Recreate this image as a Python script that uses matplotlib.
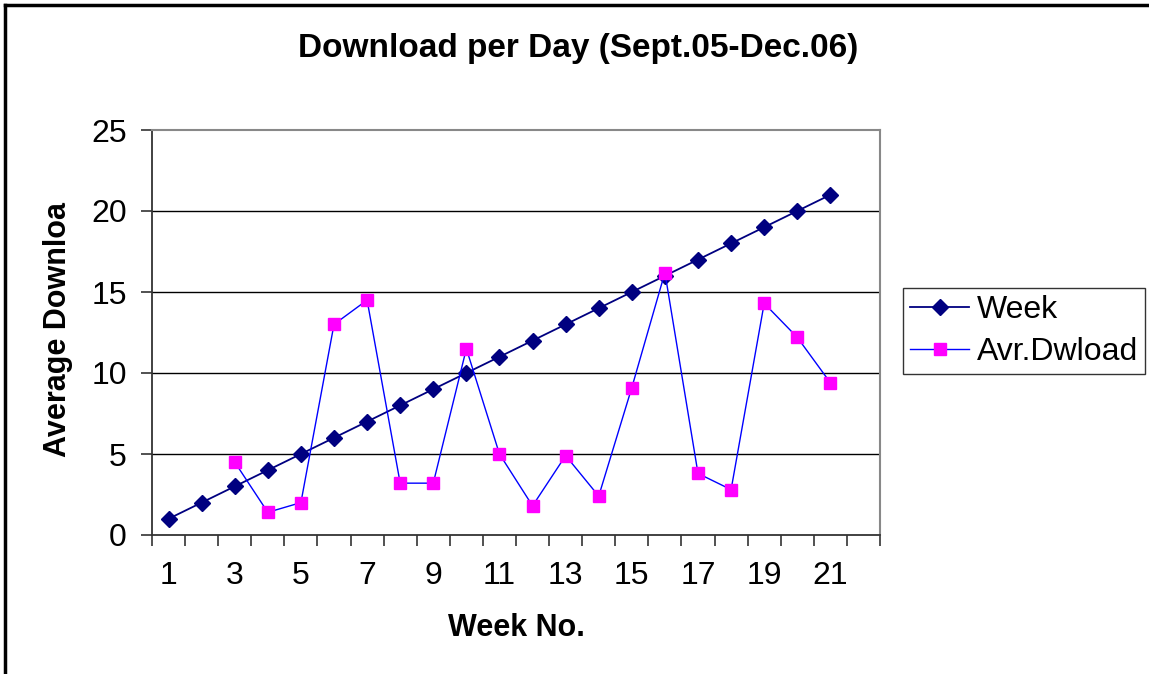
import numpy as np
import matplotlib
matplotlib.use("Agg")
import matplotlib.pyplot as plt
from matplotlib.lines import Line2D

plt.rcParams['font.family'] = ['Liberation Sans', 'DejaVu Sans']

weeks = np.arange(1, 22)
week_vals = [1, 2, 3, 4, 5, 6, 7, 8, 9, 10, 11, 12, 13, 14, 15, 16, 17, 18, 19, 20, 21]
dl_weeks = np.arange(3, 22)
dl_vals = [4.5, 1.4, 2.0, 13.0, 14.5, 3.2, 3.2, 11.5, 5.0, 1.8, 4.9, 2.4,
           9.1, 16.2, 3.8, 2.8, 14.3, 12.2, 9.4]
x_labels = [str(w) for w in range(1, 22, 2)]

fig = plt.figure(figsize=(11.49, 6.74), dpi=100)
ax = fig.add_axes([152 / 1149, 1 - 535 / 674, (880 - 152) / 1149, (535 - 130) / 674])

for y in [5, 10, 15, 20]:
    ax.axhline(y, color='#000000', lw=1.0, zorder=1)

ax.plot(weeks, week_vals, color='#000080', lw=1.3, marker='D', ms=8,
        mfc='#000080', mec='#000080', label='Week', zorder=3)
ax.plot(dl_weeks, dl_vals, color='#0000FF', lw=1.0, marker='s', ms=9,
        mfc='#FF00FF', mec='#FF00FF', label='Avr.Dwload', zorder=3)

ax.set_xlim(0.5, 22.5)
ax.set_ylim(0, 25)
ax.set_yticks([0, 5, 10, 15, 20, 25])
ax.set_xticks(np.arange(0.5, 23, 1))
ax.set_xticklabels([])
ax.set_xticks(range(1, 22, 2), minor=True)
ax.set_xticklabels(x_labels, minor=True)
ax.tick_params(axis='x', which='major', direction='out', length=8, width=1.2, color='#333333')
ax.tick_params(axis='x', which='minor', length=0, pad=19, labelsize=23)
ax.tick_params(axis='y', direction='out', length=8, width=1.2, color='#333333',
               labelsize=23, pad=10)

ax.spines['left'].set_color('#333333')
ax.spines['bottom'].set_color('#333333')
ax.spines['left'].set_linewidth(1.3)
ax.spines['bottom'].set_linewidth(1.3)
ax.spines['top'].set_color('#888888')
ax.spines['right'].set_color('#888888')
ax.spines['top'].set_linewidth(1.5)
ax.spines['right'].set_linewidth(1.5)

fig.text(578 / 1149, 1 - 48 / 674, 'Download per Day (Sept.05-Dec.06)',
         ha='center', va='center', fontsize=24, fontweight='bold')
fig.text(58 / 1149, 1 - 330 / 674, 'Average Downloa', rotation=90,
         ha='center', va='center', fontsize=22, fontweight='bold')
fig.text(516 / 1149, 1 - 628 / 674, 'Week No.', ha='center', va='center',
         fontsize=22, fontweight='bold')

leg = fig.legend(loc='upper left', bbox_to_anchor=(903 / 1149, 1 - 288 / 674),
                 fontsize=23, frameon=True, fancybox=False, borderpad=0.22,
                 handlelength=1.85, handletextpad=0.25, labelspacing=0.38,
                 borderaxespad=0)
leg.get_frame().set_edgecolor('#000000')
leg.get_frame().set_linewidth(1.0)

# outer chart border (only top and left visible)
fig.add_artist(Line2D([5 / 1149, 1], [1 - 5 / 674, 1 - 5 / 674], color='black', lw=2.5))
fig.add_artist(Line2D([5 / 1149, 5 / 1149], [0, 1 - 5 / 674], color='black', lw=2.5))

fig.savefig('out.png', dpi=100)
